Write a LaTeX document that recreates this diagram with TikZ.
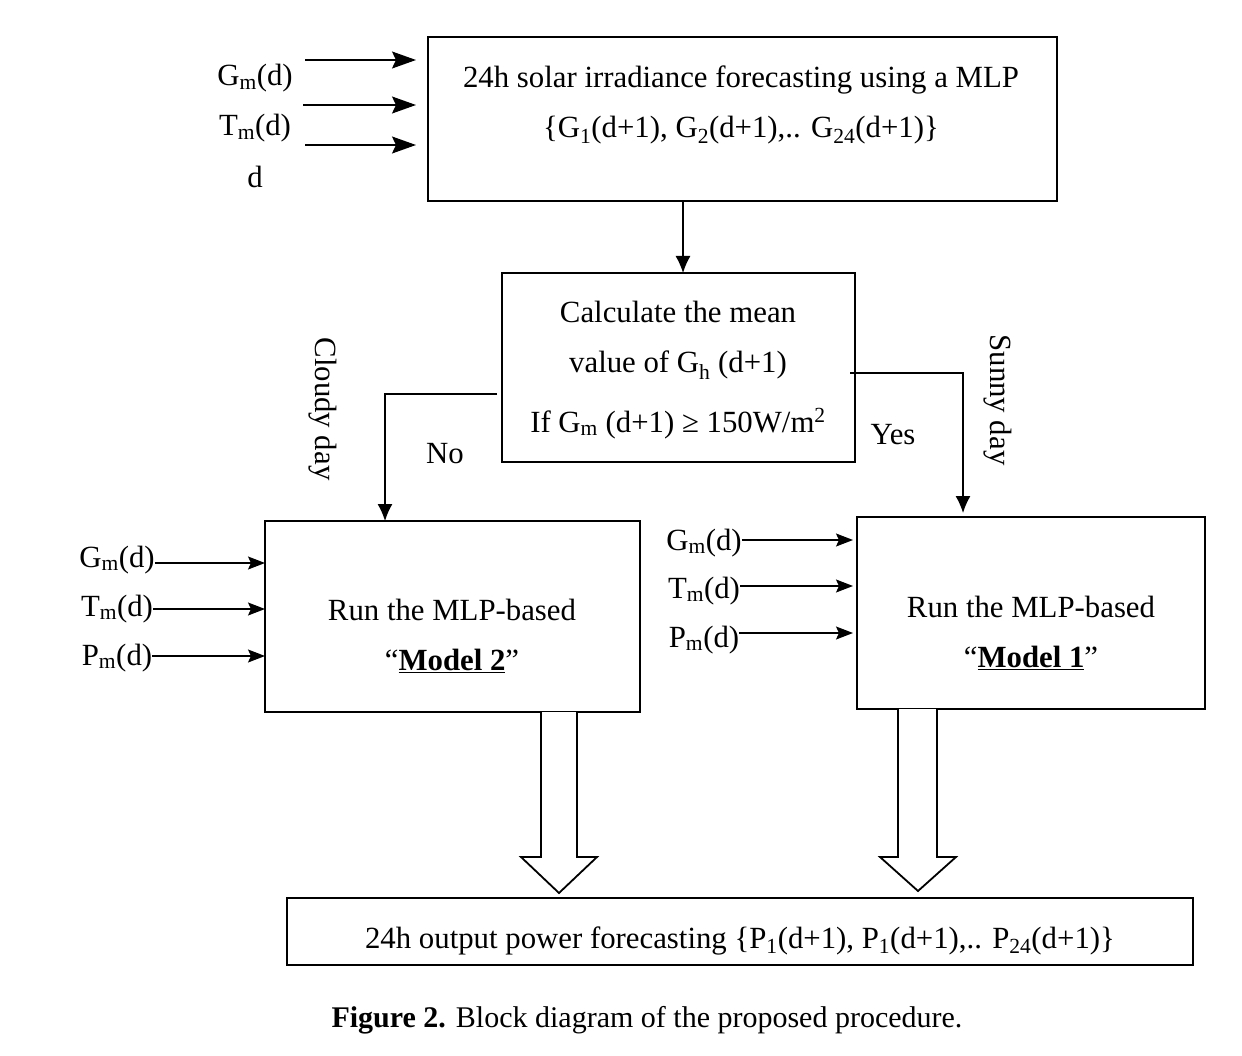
\documentclass[tikz,border=0pt]{standalone}
\usepackage{fontspec}
\setmainfont{Liberation Serif}
\usetikzlibrary{arrows.meta,calc}
\newcommand{\sbm}[1]{\textsubscript{#1}}
\begin{document}
\begin{tikzpicture}[x=1pt,y=-1pt,
  box/.style={draw,line width=1.8pt,inner sep=0pt,outer sep=0pt},
  txt/.style={font=\fontsize{30.8}{36}\selectfont,inner sep=0pt,anchor=base},
  captxt/.style={font=\fontsize{30}{36}\selectfont,inner sep=0pt,anchor=base},
  bigarr/.style={line width=1.4pt,-{Stealth[length=24,width=17,inset=4]}},
  inarr/.style={line width=1.4pt,-{Stealth[length=17,width=13,inset=3]}},
  downarr/.style={line width=1.3pt,-{Latex[length=17,width=15]}},
  blockarr/.style={draw,line width=1.8pt,fill=white,line join=miter}]
\useasboundingbox (0,0) rectangle (1242,1056);

% boxes
\node[box,minimum width=629,minimum height=164] (top) at (742.5,119) {};
\node[box,minimum width=353,minimum height=189] (mean) at (678.5,367.5) {};
\node[box,minimum width=375,minimum height=191] (m2) at (452.5,616.5) {};
\node[box,minimum width=348,minimum height=192] (m1) at (1031,613) {};
\node[box,minimum width=906,minimum height=67] (out) at (740,931.5) {};

% box texts
\node[txt] (t1) at (741,88) {24h solar irradiance forecasting using a MLP};
\node[txt] (t2) at (741,138) {\{G\sbm{1}(d+1), G\sbm{2}(d+1),.. G\sbm{24}(d+1)\}};
\node[txt] (c1) at (678,323) {Calculate the mean};
\node[txt] (c2) at (678,373) {value of G\sbm{h} (d+1)};
\node[txt] (c3) at (678,432) {If G\sbm{m} (d+1) ≥ 150W/m\textsuperscript{2}};
\node[txt] (r2a) at (452,620) {Run the MLP-based};
\node[txt] (r2b) at (452,670) {“\underline{\textbf{Model 2}}”};
\node[txt] (r1a) at (1031,617) {Run the MLP-based};
\node[txt] (r1b) at (1031,667) {“\underline{\textbf{Model 1}}”};
\node[txt] (o1) at (740,948) {24h output power forecasting \{P\sbm{1}(d+1), P\sbm{1}(d+1),.. P\sbm{24}(d+1)\}};
\node[captxt] (cap) at (647,1027) {\textbf{Figure 2.} Block diagram of the proposed procedure.};

% top inputs
\node[txt] (g0) at (255,86) {G\sbm{m}(d)};
\node[txt] (tt0) at (255,136) {T\sbm{m}(d)};
\node[txt] (d0) at (255,188) {d};
\coordinate (a1s) at (305,60);  \coordinate (a1e) at (416,60);
\coordinate (a2s) at (303,105); \coordinate (a2e) at (416,105);
\coordinate (a3s) at (305,145); \coordinate (a3e) at (416,145);
\draw[bigarr] (a1s) -- (a1e);
\draw[bigarr] (a2s) -- (a2e);
\draw[bigarr] (a3s) -- (a3e);

% model 2 inputs
\node[txt] (g2) at (117,567) {G\sbm{m}(d)};
\node[txt] (tt2) at (117,616) {T\sbm{m}(d)};
\node[txt] (p2) at (117,665) {P\sbm{m}(d)};
\draw[inarr] (g2.east |- 0,563) -- (m2.west |- 0,563);
\draw[inarr] (tt2.east |- 0,609) -- (m2.west |- 0,609);
\draw[inarr] (p2.east |- 0,656) -- (m2.west |- 0,656);

% model 1 inputs
\node[txt] (g1) at (704,550) {G\sbm{m}(d)};
\node[txt] (tt1) at (704,598) {T\sbm{m}(d)};
\node[txt] (p1) at (704,647) {P\sbm{m}(d)};
\draw[inarr] (g1.east |- 0,540) -- (853,540);
\draw[inarr] (tt1.east |- 0,586) -- (853,586);
\draw[inarr] (p1.east |- 0,633) -- (853,633);

% top -> mean
\draw[downarr] (683,0 |- top.south) -- (683,0 |- mean.north);

% branches
\coordinate (nos) at (497,394);
\coordinate (noe) at (385,521);
\draw[downarr] (nos) -| (noe);
\coordinate (yess) at (850,373);
\coordinate (yese) at (963,513);
\draw[downarr] (yess) -| (yese);

\node[txt] (no) at (445,463) {No};
\node[txt] (yes) at (893,444) {Yes};
\node[font=\fontsize{30.8}{36}\selectfont,inner sep=0pt,rotate=-90] (cloudy) at (323,409) {Cloudy day};
\node[font=\fontsize{30.8}{36}\selectfont,inner sep=0pt,rotate=-90] (sunny) at (998,400) {Sunny day};

% block arrows
\draw[blockarr] (541,712) -- (541,857) -- (521,857) -- (559,893) -- (597,857) -- (577,857) -- (577,712);
\draw[blockarr] (898,709) -- (898,857) -- (880,857) -- (918,891) -- (956,857) -- (937,857) -- (937,709);
\end{tikzpicture}
\end{document}
